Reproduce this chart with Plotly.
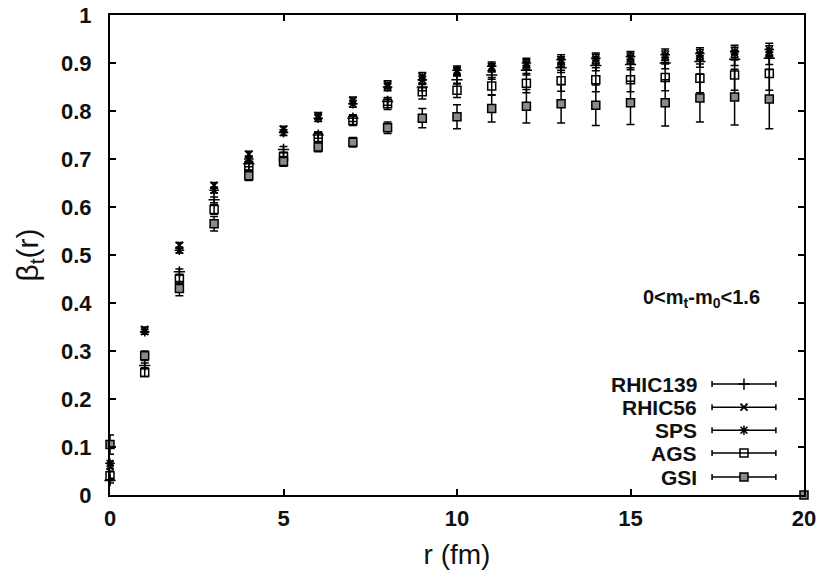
import plotly.graph_objects as go

r = list(range(20))

gsi = [0.105, 0.29, 0.43, 0.565, 0.665, 0.695, 0.725, 0.735, 0.765, 0.785,
       0.788, 0.805, 0.81, 0.815, 0.812, 0.817, 0.817, 0.827, 0.829, 0.825]
gsi_err = [0.02, 0.01, 0.015, 0.015, 0.01, 0.01, 0.01, 0.01, 0.012, 0.02,
           0.025, 0.028, 0.035, 0.04, 0.042, 0.045, 0.048, 0.05, 0.058, 0.062]
gsi_r_extra = [20]
gsi_extra = [0.0]

ags = [0.04, 0.255, 0.45, 0.595, 0.685, 0.705, 0.745, 0.78, 0.815, 0.84,
       0.843, 0.852, 0.858, 0.863, 0.865, 0.865, 0.87, 0.868, 0.875, 0.878]
ags_err = [0.01, 0.008, 0.01, 0.01, 0.008, 0.008, 0.01, 0.01, 0.012, 0.015,
           0.015, 0.018, 0.02, 0.022, 0.025, 0.025, 0.028, 0.03, 0.032, 0.035]

rhic139 = [0.03, 0.27, 0.465, 0.615, 0.69, 0.72, 0.75, 0.785, 0.82, 0.85,
           0.865, 0.875, 0.885, 0.89, 0.895, 0.897, 0.9, 0.903, 0.908, 0.91]
rhic56 = [0.06, 0.345, 0.52, 0.645, 0.71, 0.762, 0.79, 0.822, 0.855, 0.872,
          0.882, 0.89, 0.897, 0.903, 0.907, 0.91, 0.913, 0.916, 0.92, 0.923]
sps = [0.066, 0.34, 0.51, 0.635, 0.70, 0.755, 0.785, 0.815, 0.85, 0.865,
       0.885, 0.893, 0.9, 0.907, 0.91, 0.913, 0.917, 0.92, 0.924, 0.928]
small_err = [0.005, 0.005, 0.006, 0.006, 0.006, 0.006, 0.007, 0.007, 0.008, 0.008,
             0.009, 0.009, 0.01, 0.01, 0.011, 0.011, 0.012, 0.012, 0.013, 0.013]

legend_names = ["RHIC139", "RHIC56", "SPS", "AGS", "GSI"]
x_ticks = [0, 5, 10, 15, 20]
y_ticks = [0, 0.1, 0.2, 0.3, 0.4, 0.5, 0.6, 0.7, 0.8, 0.9, 1]
y_ticklabels = ["0", "0.1", "0.2", "0.3", "0.4", "0.5", "0.6", "0.7", "0.8", "0.9", "1"]

FONT = "Liberation Sans, Arial, sans-serif"

styles = {
    "RHIC139": dict(symbol="cross-thin-open", size=8, color="black", line=dict(color="black", width=1.5)),
    "RHIC56": dict(symbol="x-thin-open", size=7, color="black", line=dict(color="black", width=2)),
    "SPS": dict(symbol="asterisk-open", size=8, color="black", line=dict(color="#333", width=1.5)),
    "AGS": dict(symbol="square-open", size=8, color="black", line=dict(color="black", width=1.5)),
    "GSI": dict(symbol="square", size=8, color="#8a8a8a", line=dict(color="black", width=1.5)),
}

series = [
    ("RHIC139", r, rhic139, small_err),
    ("RHIC56", r, rhic56, small_err),
    ("SPS", r, sps, small_err),
    ("AGS", r, ags, ags_err),
    ("GSI", r, gsi, gsi_err),
]

fig = go.Figure()
for name, xs, ys, es in series:
    fig.add_trace(go.Scatter(
        x=xs, y=ys, mode="markers", name=name,
        marker=styles[name], cliponaxis=False,
        error_y=dict(type="data", array=es, color="black", thickness=1.5, width=4),
        showlegend=False,
    ))
fig.add_trace(go.Scatter(
    x=gsi_r_extra, y=gsi_extra, mode="markers", marker=styles["GSI"],
    showlegend=False, cliponaxis=False,
))

# gnuplot-style legend: text on the left, sample with horizontal bar on the right
leg_y = [0.231, 0.183, 0.135, 0.0875, 0.0375]
for name, yy in zip(legend_names, leg_y):
    fig.add_trace(go.Scatter(
        x=[0.9135], y=[yy], xaxis="x2", yaxis="y2", mode="markers",
        marker=styles[name], cliponaxis=False,
        error_x=dict(type="constant", value=0.046, color="black", thickness=1.5, width=3),
        showlegend=False, hoverinfo="skip",
    ))
    fig.add_annotation(
        x=0.849, y=yy, xref="paper", yref="paper", text=name, showarrow=False,
        xanchor="right", yanchor="middle",
        font=dict(family=FONT, size=21, color="#111", weight="bold"),
    )

fig.add_annotation(
    x=0.853, y=0.41, xref="paper", yref="paper",
    text="0<m<sub>t</sub>-m<sub>0</sub><1.6", showarrow=False,
    xanchor="center", yanchor="middle",
    font=dict(family=FONT, size=20, color="#111", weight="bold"),
)

axis_common = dict(
    showgrid=False, zeroline=False, showline=True, linecolor="black", linewidth=2,
    mirror="allticks", ticks="inside", ticklen=6, tickwidth=1.5, tickcolor="black",
    automargin=False,
    tickfont=dict(family=FONT, size=22, color="#111", weight="bold"),
)

fig.update_layout(
    width=818, height=574,
    paper_bgcolor="white", plot_bgcolor="white",
    margin=dict(l=110, r=14, t=15, b=79),
    xaxis=dict(range=[0, 20], tickvals=x_ticks, ticktext=[str(v) for v in x_ticks],
               ticklabelstandoff=3,
               title=dict(text="r (fm)", standoff=14,
                          font=dict(family=FONT, size=28, color="#111")),
               **axis_common),
    yaxis=dict(range=[0, 1], tickvals=y_ticks, ticktext=y_ticklabels,
               ticklabelstandoff=12,
               title=dict(text="β<sub>t</sub>(r)", standoff=14,
                          font=dict(family=FONT, size=30, color="#111")),
               **axis_common),
    xaxis2=dict(overlaying="x", range=[0, 1], visible=False, anchor="y2"),
    yaxis2=dict(overlaying="y", range=[0, 1], visible=False, anchor="x2"),
    showlegend=False,
)

fig.write_html("out.html", config={"displayModeBar": False},
               post_script="document.body.style.margin='0px';")
